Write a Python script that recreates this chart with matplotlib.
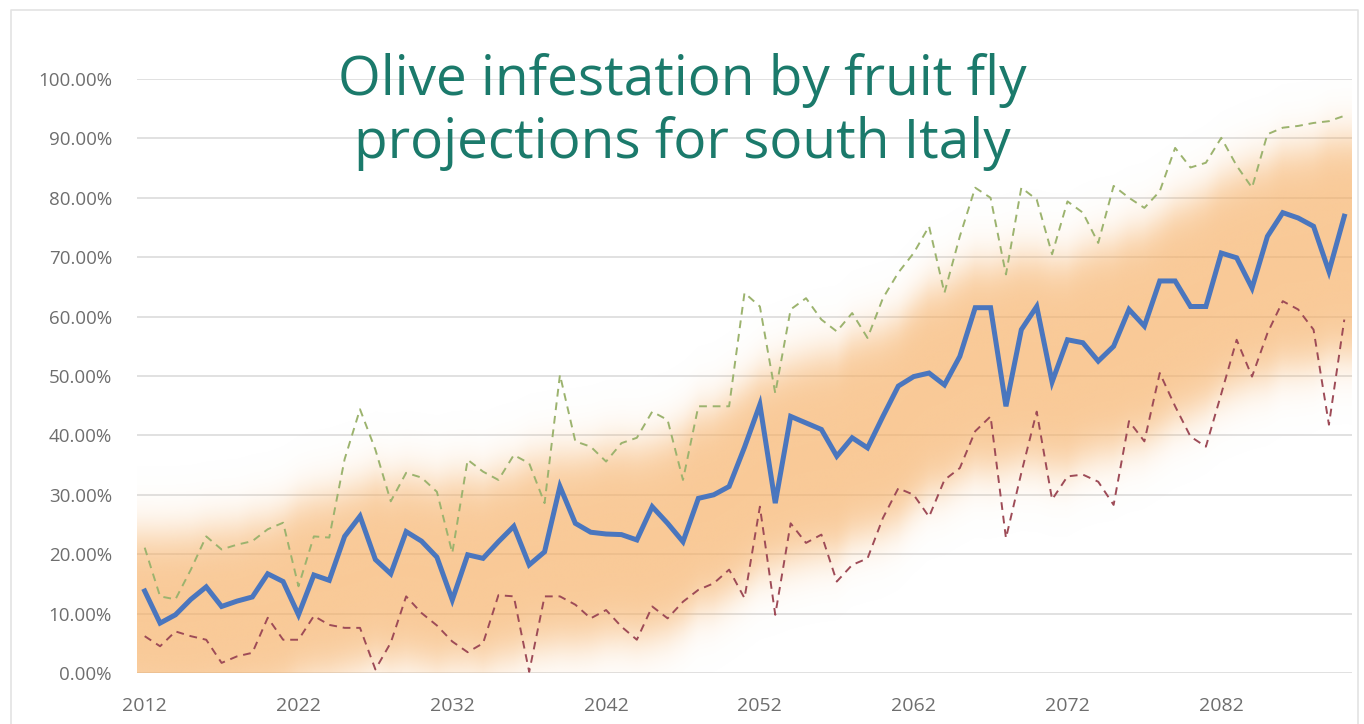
import numpy as np
import pandas as pd
import matplotlib
matplotlib.use('Agg')
import matplotlib.pyplot as plt
from matplotlib.ticker import PercentFormatter, FixedLocator
from matplotlib.colors import to_rgb
from matplotlib.lines import Line2D

# yearly projections 2012-2090 (percent of olives infested)
years = list(range(2012, 2091))

mean_pct = [13.8, 8.4, 9.8, 12.4, 14.5, 11.2, 12.1, 12.8, 16.7, 15.4,
            9.8, 16.5, 15.6, 23.0, 26.4, 19.1, 16.7, 23.8, 22.2, 19.5,
            12.3, 19.9, 19.3, 22.1, 24.7, 18.2, 20.4, 31.4, 25.2, 23.7,
            23.4, 23.3, 22.4, 28.0, 25.2, 22.1, 29.4, 30.0, 31.4, 38.0,
            45.2, 28.6, 43.2, 42.1, 41.0, 36.5, 39.6, 37.9, 43.2, 48.3,
            49.9, 50.5, 48.5, 53.3, 61.5, 61.5, 44.9, 57.8, 61.7, 49.0,
            56.1, 55.6, 52.5, 55.0, 61.2, 58.4, 66.0, 66.0, 61.7, 61.7,
            70.7, 69.9, 64.8, 73.5, 77.5, 76.6, 75.2, 67.6, 76.9]

upper_pct = [21.1, 12.9, 12.4, 17.4, 23.0, 20.8, 21.6, 22.2, 24.2, 25.3,
             14.6, 23.0, 22.8, 36.0, 44.4, 37.6, 28.9, 33.7, 32.9, 30.5,
             20.2, 35.9, 33.9, 32.5, 36.7, 35.3, 28.6, 50.2, 39.0, 38.1,
             35.6, 38.7, 39.6, 44.0, 42.6, 32.5, 44.9, 44.9, 44.9, 64.0,
             61.7, 47.1, 61.2, 63.1, 59.5, 57.5, 60.6, 56.4, 63.1, 67.4,
             70.7, 75.2, 64.0, 73.5, 81.7, 80.0, 67.1, 81.7, 79.7, 70.5,
             79.4, 77.5, 72.4, 82.0, 80.0, 78.3, 81.1, 88.4, 85.1, 85.9,
             90.1, 85.4, 81.7, 90.7, 91.8, 92.1, 92.6, 92.9, 93.8]

lower_pct = [6.2, 4.5, 7.0, 6.2, 5.6, 1.7, 2.8, 3.4, 9.3, 5.6,
             5.6, 9.6, 8.1, 7.6, 7.6, 0.6, 5.1, 12.9, 10.1, 8.0,
             5.3, 3.5, 5.0, 13.1, 12.9, 0.2, 12.9, 12.9, 11.5, 9.2,
             10.6, 7.8, 5.6, 11.2, 9.2, 12.0, 14.0, 15.1, 17.4, 12.6,
             28.0, 9.8, 25.2, 21.9, 23.3, 15.4, 18.2, 19.3, 26.1, 31.1,
             30.0, 26.3, 32.5, 34.5, 40.7, 43.2, 22.7, 33.7, 44.0, 29.2,
             33.1, 33.4, 32.2, 28.3, 42.4, 39.0, 50.5, 44.9, 39.8, 38.1,
             47.0, 56.1, 49.9, 57.2, 62.6, 61.2, 57.8, 41.8, 59.5]

tick_years = [2012, 2022, 2032, 2042, 2052, 2062, 2072, 2082]

df = pd.DataFrame({'year': years, 'mean': mean_pct,
                   'upper': upper_pct, 'lower': lower_pct})
df[['mean', 'upper', 'lower']] /= 100.0

plt.rcParams['font.family'] = ['Open Sans', 'DejaVu Sans']

fig = plt.figure(figsize=(13.64, 7.24), dpi=100)
ax = fig.add_axes([137 / 1364, 51 / 724, 1215 / 1364, 594 / 724])

x0, x1 = 2011.5, 2090.5

# soft orange band following the smoothed mean trend
trend = df['mean'].rolling(9, center=True, min_periods=1).mean() - 0.03
xs = np.linspace(x0, x1, 900)
ys = np.linspace(0, 1, 600)
centre = np.interp(xs, df['year'], trend)
half = 0.145 + 0.0005 * (xs - 2012)
dist = np.abs(ys[:, None] - centre[None, :])
alpha = 0.5 * (1 - np.tanh((dist - half[None, :]) / 0.045)) * 0.66
band = np.zeros((len(ys), len(xs), 4))
band[..., :3] = to_rgb('#F6AE62')
band[..., 3] = alpha
ax.imshow(band, extent=[x0, x1, 0, 1], origin='lower', aspect='auto',
          interpolation='bilinear', zorder=1)

ax.plot(df['year'], df['upper'], color='#9CB36E', lw=1.4, ls=(0, (4, 3)), zorder=3)
ax.plot(df['year'], df['lower'], color='#9E4B57', lw=1.4, ls=(0, (4, 3)), zorder=3)
ax.plot(df['year'], df['mean'], color='#4A76BE', lw=3.6, zorder=4,
        solid_joinstyle='miter')

ax.set_xlim(x0, x1)
ax.set_ylim(0, 1.0)
ax.yaxis.set_major_locator(FixedLocator(np.arange(0, 1.01, 0.1)))
ax.yaxis.set_major_formatter(PercentFormatter(1.0, decimals=2))
ax.set_xticks(tick_years)
ax.set_xticklabels([str(t) for t in tick_years])
ax.grid(axis='y', color='#DCDCDC', lw=1.2, zorder=0)
ax.set_axisbelow(True)
for s in ax.spines.values():
    s.set_visible(False)
ax.tick_params(axis='both', length=0, colors='#6E6E6E')
ax.tick_params(axis='y', labelsize=13.5, pad=18)
ax.tick_params(axis='x', labelsize=14, pad=17)

fig.text(0.5, 0.845, 'Olive infestation by fruit fly\nprojections for south Italy',
         ha='center', va='center', fontsize=39.5, color='#1B7A6B', linespacing=1.18)

# light frame round the chart
frame = [Line2D([11 / 1364, 11 / 1364, 1358 / 1364, 1358 / 1364],
                [0, 714 / 724, 714 / 724, 0], transform=fig.transFigure,
                color='#E3E3E3', lw=1.2)]
fig.lines.extend(frame)

fig.savefig('out.png', dpi=100)
